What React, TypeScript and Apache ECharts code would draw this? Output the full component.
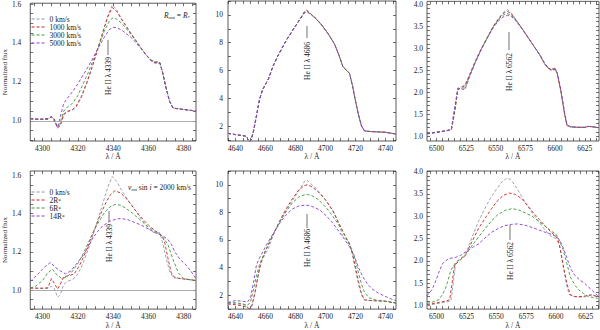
import React, { useEffect, useRef } from 'react';
import * as echarts from 'echarts';

const FONT = '"Liberation Serif", "DejaVu Serif", serif';
const C_GRAY = '#8c98a8';
const C_RED = '#cc2222';
const C_GREEN = '#3a9a3a';
const C_PURPLE = '#8a3ad8';

// ---------- Top row: rotation velocities ----------
const topNames = ['0 km/s', '1000 km/s', '3000 km/s', '5000 km/s'];
const botNames = ['0 km/s', '2R*', '6R*', '14R*'];

// He II 4339, top
const tl0 = [[4293,1.012],[4298,1.008],[4303,1.008],[4305,1.02],[4306.5,1.01],[4308.5,0.962],[4310,0.975],[4312,1.03],[4314,1.045],[4317,1.055],[4319,1.07],[4322,1.12],[4325,1.19],[4328,1.27],[4331,1.36],[4334,1.45],[4337,1.54],[4339.5,1.595],[4342,1.57],[4345,1.52],[4350,1.45],[4355,1.385],[4359,1.335],[4362,1.305],[4364,1.3],[4366.5,1.3],[4368,1.25],[4370,1.17],[4372,1.1],[4374,1.065],[4380,1.058],[4387,1.05]];
const tl1 = [[4293,1.01],[4298,1.007],[4303,1.008],[4305,1.022],[4306.5,1.01],[4308.5,0.965],[4310,0.975],[4312,1.035],[4314,1.048],[4317,1.058],[4319,1.075],[4322,1.125],[4325,1.195],[4328,1.275],[4331,1.36],[4334,1.45],[4337,1.535],[4339.5,1.582],[4342,1.562],[4345,1.518],[4350,1.45],[4355,1.385],[4359,1.335],[4362,1.305],[4364,1.3],[4366.5,1.298],[4368,1.25],[4370,1.17],[4372,1.1],[4374,1.065],[4380,1.058],[4387,1.05]];
const tl3 = [[4293,1.01],[4298,1.007],[4303,1.01],[4305,1.02],[4306.5,1.005],[4308.5,0.968],[4310,0.99],[4312,1.05],[4314,1.07],[4317,1.09],[4320,1.13],[4323,1.19],[4326,1.25],[4329,1.32],[4332,1.39],[4335,1.46],[4338,1.515],[4340,1.53],[4342,1.522],[4345,1.5],[4350,1.445],[4355,1.385],[4359,1.335],[4362,1.31],[4364,1.305],[4366.5,1.3],[4368,1.25],[4370,1.17],[4372,1.1],[4374,1.065],[4380,1.058],[4387,1.05]];
const tl5 = [[4293,1.01],[4298,1.008],[4303,1.012],[4305,1.02],[4306.5,1.0],[4308.5,0.965],[4310,1.02],[4312,1.09],[4314,1.115],[4317,1.15],[4320,1.19],[4323,1.235],[4326,1.28],[4329,1.33],[4332,1.38],[4335,1.43],[4338,1.47],[4340,1.48],[4342,1.478],[4345,1.465],[4350,1.43],[4355,1.38],[4359,1.335],[4362,1.305],[4364,1.295],[4366.5,1.295],[4368,1.25],[4370,1.17],[4372,1.1],[4374,1.065],[4380,1.058],[4387,1.05]];

// He II 4686, top
const tm0 = [[4635,1.47],[4640,1.38],[4645,1.3],[4647.5,1.25],[4648.5,0.95],[4649.5,0.88],[4650.5,1.0],[4652,1.6],[4654,2.7],[4656,3.9],[4658,4.6],[4660,5.0],[4662,5.4],[4665,6.3],[4668,7.0],[4671,7.6],[4674,8.2],[4677,8.7],[4680,9.2],[4683,9.7],[4686,10.25],[4687.5,10.35],[4690,10.1],[4694,9.7],[4698,9.2],[4702,8.6],[4706,7.9],[4709,7.1],[4711.5,6.3],[4714,6.0],[4716,5.8],[4718,4.9],[4720,3.8],[4722,2.8],[4724,2.0],[4726,1.65],[4730,1.6],[4740,1.55],[4747,1.42]];
const tm1 = [[4635,1.47],[4640,1.38],[4645,1.3],[4647.5,1.25],[4648.5,0.95],[4649.5,0.88],[4650.5,1.0],[4652,1.6],[4654,2.7],[4656,3.9],[4658,4.6],[4660,5.0],[4662,5.4],[4665,6.3],[4668,7.0],[4671,7.6],[4674,8.2],[4677,8.7],[4680,9.2],[4683,9.7],[4686,10.22],[4687.5,10.32],[4690,10.08],[4694,9.7],[4698,9.2],[4702,8.6],[4706,7.9],[4709,7.1],[4711.5,6.3],[4714,6.0],[4716,5.8],[4718,4.9],[4720,3.8],[4722,2.8],[4724,2.0],[4726,1.65],[4730,1.6],[4740,1.55],[4747,1.42]];
const tm3 = [[4635,1.47],[4640,1.38],[4645,1.3],[4647.5,1.25],[4648.5,0.95],[4649.5,0.88],[4650.5,1.02],[4652,1.65],[4654,2.75],[4656,3.9],[4658,4.6],[4660,5.0],[4662,5.4],[4665,6.3],[4668,7.0],[4671,7.6],[4674,8.2],[4677,8.7],[4680,9.2],[4683,9.7],[4686,10.2],[4687.5,10.28],[4690,10.08],[4694,9.7],[4698,9.2],[4702,8.6],[4706,7.9],[4709,7.1],[4711.5,6.3],[4714,6.0],[4716,5.8],[4718,4.9],[4720,3.8],[4722,2.8],[4724,2.0],[4726,1.65],[4730,1.6],[4740,1.55],[4747,1.42]];
const tm5 = [[4635,1.47],[4640,1.38],[4645,1.3],[4647.5,1.25],[4648.5,0.95],[4649.5,0.88],[4650.5,1.05],[4652,1.7],[4654,2.8],[4656,3.9],[4658,4.6],[4660,5.0],[4662,5.4],[4665,6.3],[4668,7.0],[4671,7.6],[4674,8.2],[4677,8.7],[4680,9.2],[4683,9.68],[4686,10.15],[4687.5,10.22],[4690,10.05],[4694,9.68],[4698,9.2],[4702,8.6],[4706,7.9],[4709,7.1],[4711.5,6.3],[4714,6.0],[4716,5.8],[4718,4.9],[4720,3.8],[4722,2.8],[4724,2.0],[4726,1.65],[4730,1.6],[4740,1.55],[4747,1.42]];

// He II 6562, top
const tr0 = [[6492,1.07],[6500,1.1],[6508,1.13],[6512.5,1.15],[6515,1.5],[6518,2.05],[6521,2.12],[6524,2.17],[6528,2.4],[6533,2.72],[6538,3.0],[6543,3.25],[6548,3.5],[6553,3.7],[6557,3.83],[6560,3.87],[6563,3.8],[6567,3.65],[6572,3.45],[6577,3.25],[6582,3.05],[6587,2.85],[6591,2.65],[6594,2.55],[6597,2.52],[6600,2.55],[6602,2.4],[6605,2.0],[6608,1.5],[6610,1.25],[6613,1.22],[6620,1.21],[6625,1.21],[6628,1.23],[6632,1.22],[6637,1.2]];
const tr1 = [[6492,1.07],[6500,1.1],[6508,1.13],[6512.5,1.15],[6515,1.5],[6518,2.05],[6521,2.12],[6524,2.15],[6528,2.4],[6533,2.72],[6538,3.0],[6543,3.25],[6548,3.5],[6553,3.69],[6557,3.8],[6560,3.83],[6563,3.78],[6567,3.64],[6572,3.45],[6577,3.25],[6582,3.05],[6587,2.85],[6591,2.65],[6594,2.55],[6597,2.52],[6600,2.55],[6602,2.4],[6605,2.0],[6608,1.5],[6610,1.25],[6613,1.22],[6620,1.21],[6625,1.21],[6628,1.23],[6632,1.22],[6637,1.2]];
const tr3 = [[6492,1.07],[6500,1.1],[6508,1.13],[6512.5,1.16],[6515,1.55],[6518,2.08],[6521,2.1],[6524,2.1],[6528,2.38],[6533,2.7],[6538,2.99],[6543,3.25],[6548,3.49],[6553,3.67],[6557,3.76],[6560,3.78],[6563,3.75],[6567,3.63],[6572,3.45],[6577,3.25],[6582,3.05],[6587,2.85],[6591,2.66],[6594,2.55],[6597,2.5],[6600,2.53],[6602,2.42],[6605,2.02],[6608,1.52],[6610,1.26],[6613,1.22],[6620,1.21],[6625,1.21],[6628,1.23],[6632,1.22],[6637,1.2]];
const tr5 = [[6492,1.06],[6500,1.09],[6508,1.13],[6512.5,1.17],[6515,1.6],[6518,2.1],[6521,2.08],[6524,2.06],[6528,2.36],[6533,2.69],[6538,2.98],[6543,3.24],[6548,3.47],[6553,3.64],[6557,3.72],[6560,3.74],[6563,3.72],[6567,3.62],[6572,3.44],[6577,3.25],[6582,3.05],[6587,2.86],[6591,2.67],[6594,2.56],[6597,2.49],[6600,2.52],[6602,2.43],[6605,2.04],[6608,1.55],[6610,1.28],[6613,1.22],[6620,1.21],[6625,1.21],[6628,1.23],[6632,1.22],[6637,1.2]];

// ---------- Bottom row: outer radius ----------
const bl0 = tl0;
const bl2 = [[4293,1.01],[4300,1.01],[4303,1.012],[4305,1.06],[4307,1.03],[4308.5,1.005],[4310,1.03],[4312,1.07],[4315,1.075],[4318,1.085],[4321,1.13],[4324,1.19],[4327,1.26],[4330,1.33],[4333,1.4],[4336,1.46],[4338.5,1.5],[4341,1.52],[4344,1.51],[4347,1.485],[4350,1.45],[4355,1.39],[4360,1.34],[4364,1.31],[4367,1.29],[4369,1.26],[4371,1.17],[4373,1.09],[4375,1.065],[4380,1.058],[4387,1.05]];
const bl6 = [[4293,1.01],[4296,1.02],[4300,1.05],[4303,1.09],[4305.5,1.11],[4308,1.08],[4311,1.06],[4314,1.07],[4317,1.1],[4320,1.14],[4323,1.19],[4326,1.25],[4329,1.31],[4332,1.36],[4335,1.405],[4338,1.435],[4341,1.448],[4344,1.445],[4347,1.43],[4350,1.41],[4355,1.37],[4360,1.33],[4365,1.3],[4368,1.28],[4371,1.24],[4374,1.16],[4377,1.09],[4380,1.06],[4383,1.055],[4387,1.05]];
const bl14 = [[4293,1.045],[4297,1.08],[4301,1.12],[4304.5,1.145],[4307,1.12],[4310,1.1],[4313,1.085],[4316,1.1],[4319,1.135],[4322,1.17],[4325,1.21],[4328,1.265],[4331,1.305],[4334,1.335],[4338,1.36],[4341,1.37],[4344,1.375],[4348,1.37],[4352,1.355],[4356,1.34],[4360,1.32],[4364,1.3],[4368,1.285],[4371,1.265],[4373,1.24],[4375,1.2],[4378,1.16],[4381,1.135],[4384,1.1],[4387,1.06]];

const bm0 = tm0;
const bm2 = [[4635,1.35],[4640,1.3],[4645,1.2],[4648,1.1],[4649.5,0.98],[4651,1.3],[4653,2.2],[4655,3.4],[4657,4.4],[4660,5.2],[4663,5.9],[4666,6.6],[4670,7.5],[4674,8.3],[4678,9.0],[4682,9.6],[4686,9.95],[4688,10.0],[4691,9.85],[4695,9.5],[4700,8.9],[4705,8.1],[4709,7.2],[4713,6.3],[4716,5.7],[4718,5.0],[4720,4.0],[4722,3.0],[4724,2.1],[4726,1.65],[4730,1.6],[4740,1.55],[4747,1.42]];
const bm6 = [[4635,1.4],[4640,1.45],[4645,1.35],[4648,1.25],[4650,1.5],[4652,2.4],[4654,3.4],[4656,4.2],[4659,5.0],[4662,5.7],[4666,6.6],[4670,7.4],[4674,8.1],[4678,8.7],[4682,9.1],[4686,9.28],[4688,9.3],[4691,9.2],[4695,8.95],[4700,8.4],[4705,7.7],[4710,6.9],[4714,6.1],[4717,5.4],[4720,4.5],[4722,3.6],[4724,2.8],[4726,2.2],[4729,1.8],[4733,1.65],[4740,1.55],[4747,1.42]];
const bm14 = [[4635,1.45],[4640,1.6],[4645,1.55],[4648,1.5],[4650,1.8],[4652,2.9],[4654,4.2],[4656,4.7],[4659,5.3],[4662,5.9],[4666,6.6],[4670,7.3],[4674,7.85],[4678,8.25],[4682,8.45],[4686,8.52],[4689,8.5],[4693,8.35],[4697,8.1],[4701,7.7],[4705,7.2],[4709,6.6],[4713,6.0],[4716,5.5],[4719,4.9],[4722,4.0],[4725,3.3],[4728,2.8],[4731,2.45],[4735,2.15],[4739,1.95],[4743,1.75],[4747,1.6]];

const br0 = [[6492,1.0],[6500,1.04],[6508,1.08],[6512,1.1],[6514,1.5],[6516,1.95],[6519,2.03],[6522,2.1],[6525,2.2],[6530,2.55],[6535,2.88],[6540,3.15],[6545,3.4],[6550,3.6],[6555,3.78],[6559,3.86],[6562,3.82],[6566,3.68],[6570,3.5],[6575,3.28],[6580,3.08],[6585,2.9],[6590,2.72],[6595,2.57],[6600,2.5],[6603,2.35],[6606,1.9],[6609,1.45],[6611,1.25],[6615,1.2],[6620,1.19],[6625,1.2],[6630,1.24],[6635,1.2]];
const br2 = [[6492,1.02],[6500,1.06],[6508,1.1],[6511,1.13],[6513,1.5],[6515,1.9],[6519,2.0],[6524,2.12],[6530,2.45],[6535,2.72],[6540,2.93],[6546,3.17],[6551,3.35],[6556,3.47],[6561,3.52],[6566,3.49],[6571,3.4],[6576,3.25],[6581,3.08],[6586,2.93],[6591,2.78],[6596,2.64],[6600,2.55],[6602,2.45],[6604,2.2],[6606,1.9],[6609,1.5],[6612,1.24],[6616,1.2],[6622,1.2],[6629,1.24],[6635,1.2]];
const br6 = [[6492,1.05],[6497,1.08],[6502,1.13],[6505,1.25],[6508,1.42],[6512,1.79],[6516,1.97],[6520,2.04],[6524,2.12],[6530,2.35],[6535,2.53],[6540,2.7],[6546,2.9],[6551,3.03],[6557,3.13],[6563,3.17],[6568,3.15],[6574,3.08],[6580,3.0],[6585,2.9],[6590,2.8],[6596,2.67],[6600,2.6],[6603,2.45],[6606,2.25],[6609,1.95],[6612,1.64],[6616,1.45],[6619,1.35],[6623,1.27],[6627,1.2],[6631,1.18],[6635,1.16]];
const br14 = [[6492,1.22],[6496,1.35],[6499,1.53],[6502,1.75],[6505,1.94],[6510,2.05],[6516,2.08],[6520,2.12],[6524,2.2],[6530,2.3],[6535,2.38],[6540,2.5],[6546,2.64],[6552,2.73],[6557,2.79],[6563,2.82],[6568,2.83],[6574,2.8],[6580,2.75],[6585,2.7],[6591,2.64],[6596,2.6],[6600,2.55],[6603,2.47],[6606,2.3],[6609,2.08],[6611,1.92],[6613,1.79],[6616,1.67],[6620,1.57],[6624,1.5],[6627,1.42],[6631,1.32],[6635,1.22]];

// ---------- tick labels ----------
const xLab4339 = [4300, 4320, 4340, 4360, 4380];
const xLab4686 = [4640, 4660, 4680, 4700, 4720, 4740];
const xLab6562 = [6500, 6525, 6550, 6575, 6600, 6625];
const yLab4339 = [1.0, 1.2, 1.4, 1.6];
const yLab4686 = [2, 4, 6, 8, 10];
const yLab6562 = [1.0, 1.5, 2.0, 2.5, 3.0, 3.5, 4.0];

const steps = (a: number, b: number, s: number) => {
  const out: number[] = [];
  for (let v = a; v <= b + 1e-9; v += s) out.push(Math.round(v * 1000) / 1000);
  return out;
};

const colors = [C_GRAY, C_RED, C_GREEN, C_PURPLE];

type Panel = {
  left: number; top: number; width: number; height: number;
  xMin: number; xMax: number; yMin: number; yMax: number;
  xLab: number[]; xTick: number[]; yLab: number[]; yTick: number[]; yDig: number;
  names: string[]; data: number[][][]; yName: boolean; lm: number; ref: boolean;
};

const panels: Panel[] = [
  { left: 24, top: 1, width: 172, height: 140, xMin: 4293, xMax: 4387, yMin: 0.896, yMax: 1.604,
    xLab: xLab4339, xTick: steps(4295, 4385, 5), yLab: yLab4339, yTick: steps(0.9, 1.6, 0.05), yDig: 1,
    names: topNames, data: [tl0, tl1, tl3, tl5], yName: true, lm: 9, ref: true },
  { left: 228, top: 1, width: 168, height: 140, xMin: 4635, xMax: 4747, yMin: 0.92, yMax: 11.0,
    xLab: xLab4686, xTick: steps(4635, 4745, 5), yLab: yLab4686, yTick: steps(1, 11, 1), yDig: 0,
    names: topNames, data: [tm0, tm1, tm3, tm5], yName: false, lm: 5, ref: false },
  { left: 427, top: 1, width: 172, height: 140, xMin: 6492, xMax: 6637, yMin: 0.9, yMax: 4.06,
    xLab: xLab6562, xTick: steps(6495, 6635, 5), yLab: yLab6562, yTick: steps(1, 4, 0.1), yDig: 1,
    names: topNames, data: [tr0, tr1, tr3, tr5], yName: false, lm: 4, ref: false },
  { left: 24, top: 171, width: 172, height: 140, xMin: 4293, xMax: 4387, yMin: 0.9, yMax: 1.624,
    xLab: xLab4339, xTick: steps(4295, 4385, 5), yLab: yLab4339, yTick: steps(0.9, 1.6, 0.05), yDig: 1,
    names: botNames, data: [bl0, bl2, bl6, bl14], yName: true, lm: 9, ref: true },
  { left: 228, top: 171, width: 168, height: 140, xMin: 4635, xMax: 4747, yMin: 0.98, yMax: 11.0,
    xLab: xLab4686, xTick: steps(4635, 4745, 5), yLab: yLab4686, yTick: steps(1, 11, 1), yDig: 0,
    names: botNames, data: [bm0, bm2, bm6, bm14], yName: false, lm: 5, ref: false },
  { left: 427, top: 171, width: 172, height: 140, xMin: 6492, xMax: 6636, yMin: 0.92, yMax: 4.015,
    xLab: xLab6562, xTick: steps(6495, 6635, 5), yLab: yLab6562, yTick: steps(1, 4, 0.1), yDig: 1,
    names: botNames, data: [br0, br2, br6, br14], yName: false, lm: 4, ref: false },
];

const tickStyle = { color: '#333', width: 0.7 };
const txt = { fontFamily: FONT, color: '#222' };

function buildOption() {
  const grid: any[] = [];
  const xAxis: any[] = [];
  const yAxis: any[] = [];
  const series: any[] = [];
  panels.forEach((p, i) => {
    grid.push({ left: p.left, top: p.top, width: p.width, height: p.height, show: true,
      borderColor: '#333', borderWidth: 0.8, backgroundColor: 'transparent' });
    xAxis.push({ type: 'value', gridIndex: i, position: 'bottom', min: p.xMin, max: p.xMax,
      axisLine: { show: false }, splitLine: { show: false },
      axisTick: { show: true, inside: true, length: 3, customValues: p.xTick, lineStyle: tickStyle },
      axisLabel: { customValues: p.xLab, fontSize: 7.5, margin: 3, ...txt, formatter: (v: number) => String(v) },
      name: 'λ / Å', nameLocation: 'middle', nameGap: 11, nameTextStyle: { fontSize: 7.5, ...txt } });
    xAxis.push({ type: 'value', gridIndex: i, position: 'top', min: p.xMin, max: p.xMax,
      axisLine: { show: false }, splitLine: { show: false },
      axisTick: { show: true, inside: true, length: 3, customValues: p.xTick, lineStyle: tickStyle },
      axisLabel: { show: false } });
    yAxis.push({ type: 'value', gridIndex: i, position: 'left', min: p.yMin, max: p.yMax,
      axisLine: { show: false }, splitLine: { show: false },
      axisTick: { show: true, inside: true, length: 3, customValues: p.yTick, lineStyle: tickStyle },
      axisLabel: { customValues: p.yLab, fontSize: 7.5, margin: p.lm, ...txt,
        formatter: (v: number) => v.toFixed(p.yDig) },
      name: p.yName ? 'Normalized flux' : '', nameLocation: 'middle', nameGap: 17,
      nameTextStyle: { fontSize: 7, ...txt } });
    yAxis.push({ type: 'value', gridIndex: i, position: 'right', min: p.yMin, max: p.yMax,
      axisLine: { show: false }, splitLine: { show: false },
      axisTick: { show: true, inside: true, length: 3, customValues: p.yTick, lineStyle: tickStyle },
      axisLabel: { show: false } });
    p.data.forEach((d, k) => {
      const s: any = {
        type: 'line', name: p.names[k], xAxisIndex: 2 * i, yAxisIndex: 2 * i, data: d,
        symbol: 'none', showSymbol: false, clip: true, z: 3,
        lineStyle: { color: colors[k], width: 0.9, type: [3, 2] }, itemStyle: { color: colors[k] },
      };
      if (k === 0 && p.ref) {
        s.markLine = { silent: true, symbol: 'none', label: { show: false },
          lineStyle: { color: '#999', type: 'solid', width: 0.8 }, data: [{ yAxis: 1 }] };
      }
      series.push(s);
    });
  });

  const legendBase = {
    orient: 'vertical', left: 26, itemWidth: 13, itemHeight: 9.5, itemGap: 0,
    itemStyle: { opacity: 0, color: 'transparent', borderWidth: 0 },
    lineStyle: { width: 1.1 },
    textStyle: { fontSize: 7.5, ...txt, rich: { s: { fontSize: 5.5, verticalAlign: 'bottom', fontFamily: FONT, color: '#222' } } },
    formatter: (n: string) => (n.endsWith('*') ? `${n.slice(0, -1)}{s|*}` : n),
  };

  const rot = Math.PI / 2;
  const annoText = (x: number, y: number, t: string) => ({
    type: 'text', x, y, rotation: rot, z: 10,
    style: { text: t, fontSize: 7.5, fontFamily: FONT, fill: '#222', align: 'center', verticalAlign: 'middle' },
  });
  const annoLine = (x: number, y1: number, y2: number) => ({
    type: 'line', z: 10, shape: { x1: x, y1, x2: x, y2 }, style: { stroke: '#333', lineWidth: 0.7 },
  });

  const graphic = [
    annoLine(108, 40, 55), annoText(108, 76, 'He II λ 4339'),
    annoLine(307, 26, 38), annoText(307, 61, 'He II λ 4686'),
    annoLine(509, 32, 50), annoText(509, 72, 'He II λ 6562'),
    annoLine(109, 211, 222), annoText(109, 243, 'He II λ 4339'),
    annoLine(307, 214, 228), annoText(307, 248, 'He II λ 4686'),
    annoLine(510, 225, 240), annoText(510, 261, 'He II λ 6562'),
    {
      type: 'text', x: 190, y: 15, z: 10,
      style: {
        text: '{i|R}{s|out} = {i|R}{s|*}', fontSize: 7.5, fontFamily: FONT, fill: '#222',
        align: 'right', verticalAlign: 'middle',
        rich: {
          i: { fontStyle: 'italic', fontSize: 7.5, fontFamily: FONT, lineHeight: 10 },
          s: { fontSize: 5, fontFamily: FONT, lineHeight: 10, verticalAlign: 'bottom' },
        },
      },
    },
    {
      type: 'text', x: 191, y: 187, z: 10,
      style: {
        text: '{i|v}{s|rot} sin {i|i} = 2000 km/s', fontSize: 7.5, fontFamily: FONT, fill: '#222',
        align: 'right', verticalAlign: 'middle',
        rich: {
          i: { fontStyle: 'italic', fontSize: 7.5, fontFamily: FONT, lineHeight: 10 },
          s: { fontSize: 5, fontFamily: FONT, lineHeight: 10, verticalAlign: 'bottom' },
        },
      },
    },
  ];

  return {
    animation: false,
    backgroundColor: '#fff',
    grid, xAxis, yAxis, series, graphic,
    legend: [
      { ...legendBase, top: 10, data: topNames },
      { ...legendBase, top: 183, data: botNames },
    ],
  };
}

export default function App() {
  const ref = useRef<HTMLDivElement>(null);
  useEffect(() => {
    document.body.style.margin = '0';
    if (!ref.current) return;
    const chart = echarts.init(ref.current, undefined, { renderer: 'svg' });
    chart.setOption(buildOption() as any);
    return () => chart.dispose();
  }, []);
  return <div ref={ref} style={{ width: 600, height: 330 }} />;
}
